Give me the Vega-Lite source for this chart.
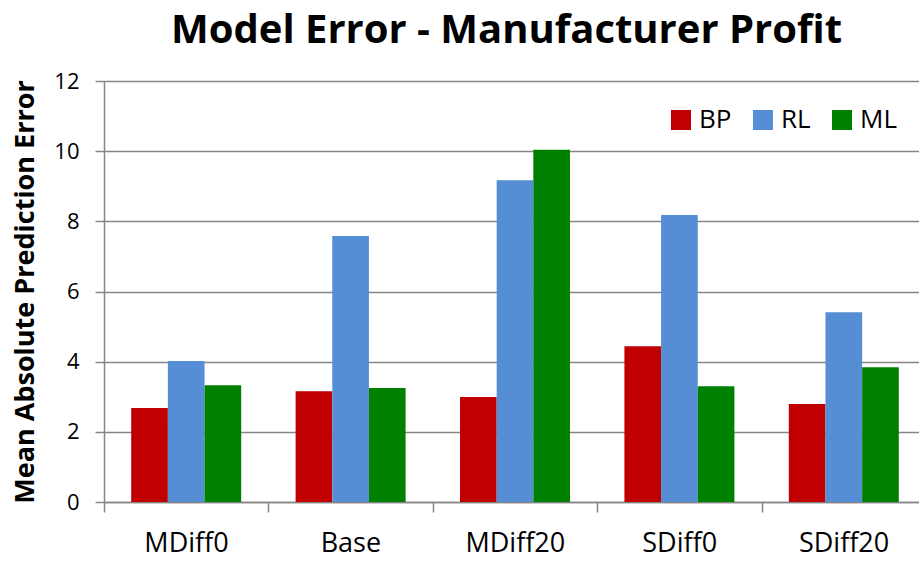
{
  "$schema": "https://vega.github.io/schema/vega-lite/v6.json",
  "autosize": {"type": "none"},
  "width": 815,
  "height": 421,
  "padding": {"left": 104, "top": 81, "right": 0, "bottom": 59},
  "background": "white",
  "title": {
    "text": "Model Error - Manufacturer Profit",
    "font": "Open Sans",
    "fontSize": 40,
    "fontWeight": "bold",
    "color": "#000000",
    "anchor": "middle",
    "dx": -5,
    "offset": 19
  },
  "config": {
    "view": {"stroke": null},
    "font": "Open Sans"
  },
  "data": {
    "values": [
      {"scenario": "MDiff0", "model": "BP", "error": 2.68},
      {"scenario": "MDiff0", "model": "RL", "error": 4.02},
      {"scenario": "MDiff0", "model": "ML", "error": 3.33},
      {"scenario": "Base", "model": "BP", "error": 3.16},
      {"scenario": "Base", "model": "RL", "error": 7.58},
      {"scenario": "Base", "model": "ML", "error": 3.25},
      {"scenario": "MDiff20", "model": "BP", "error": 2.99},
      {"scenario": "MDiff20", "model": "RL", "error": 9.17},
      {"scenario": "MDiff20", "model": "ML", "error": 10.04},
      {"scenario": "SDiff0", "model": "BP", "error": 4.44},
      {"scenario": "SDiff0", "model": "RL", "error": 8.18},
      {"scenario": "SDiff0", "model": "ML", "error": 3.30},
      {"scenario": "SDiff20", "model": "BP", "error": 2.79},
      {"scenario": "SDiff20", "model": "RL", "error": 5.41},
      {"scenario": "SDiff20", "model": "ML", "error": 3.84}
    ]
  },
  "mark": {"type": "bar"},
  "encoding": {
    "x": {
      "field": "scenario",
      "type": "nominal",
      "sort": ["MDiff0", "Base", "MDiff20", "SDiff0", "SDiff20"],
      "scale": {"range": [0, 822], "paddingInner": 0.331, "paddingOuter": 0.1655},
      "axis": {
        "title": null,
        "labelAngle": 0,
        "labelFont": "Open Sans",
        "labelFontSize": 27,
        "labelColor": "#000000",
        "labelPadding": 18,
        "bandPosition": 0,
        "tickOffset": -27.2,
        "labelOffset": 27,
        "tickSize": 10,
        "tickColor": "#868686",
        "domainColor": "#868686",
        "domainWidth": 1.5,
        "tickWidth": 1.5,
        "grid": false
      }
    },
    "xOffset": {
      "field": "model",
      "type": "nominal",
      "sort": ["BP", "RL", "ML"],
      "scale": {"paddingInner": 0, "paddingOuter": 0}
    },
    "y": {
      "field": "error",
      "type": "quantitative",
      "scale": {"domain": [0, 12], "nice": false},
      "axis": {
        "title": "Mean Absolute Prediction Error",
        "titleFont": "Open Sans",
        "titleFontSize": 27,
        "titleFontWeight": "bold",
        "titleColor": "#000000",
        "titlePadding": 14,
        "values": [0, 2, 4, 6, 8, 10, 12],
        "labelFont": "Open Sans",
        "labelFontSize": 22,
        "labelColor": "#000000",
        "labelPadding": 16,
        "tickSize": 9,
        "tickColor": "#868686",
        "tickWidth": 1.5,
        "domainColor": "#868686",
        "domainWidth": 1.5,
        "grid": true,
        "gridColor": "#868686",
        "gridWidth": 1.5
      }
    },
    "color": {
      "field": "model",
      "type": "nominal",
      "sort": ["BP", "RL", "ML"],
      "scale": {"domain": ["BP", "RL", "ML"], "range": ["#C00000", "#558ED5", "#008000"]},
      "legend": {
        "title": null,
        "orient": "none",
        "legendX": 564,
        "legendY": 26,
        "direction": "horizontal",
        "columns": 3,
        "symbolType": "square",
        "symbolSize": 400,
        "symbolStrokeWidth": 0,
        "labelFont": "Open Sans",
        "labelFontSize": 26,
        "labelColor": "#000000",
        "labelOffset": 5,
        "columnPadding": 18
      }
    }
  }
}
